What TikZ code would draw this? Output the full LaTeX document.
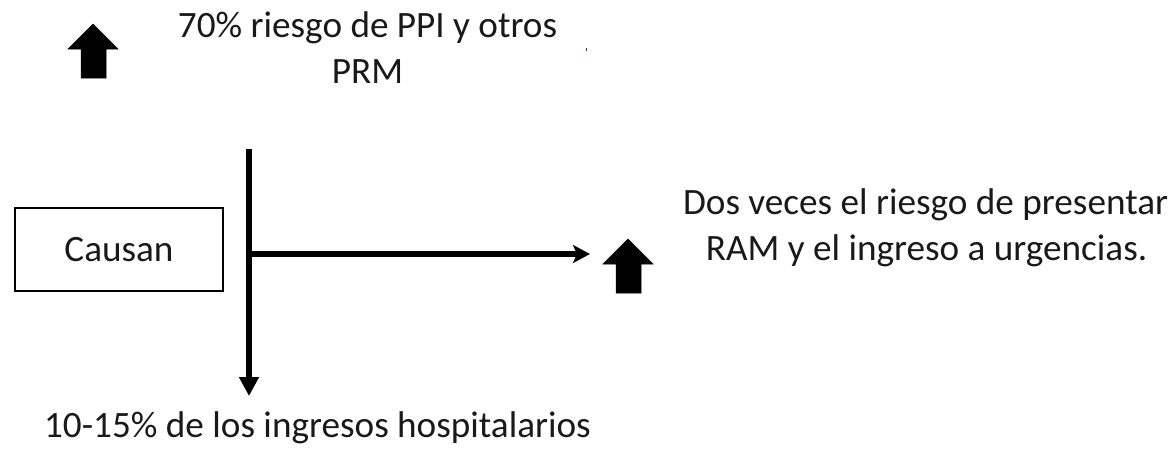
\documentclass[tikz,border=0pt]{standalone}
\usepackage{fontspec}
\setmainfont{Carlito}
\usetikzlibrary{arrows.meta}
\tikzset{
  lbl/.style={inner sep=0pt, anchor=base, font=\fontsize{37.2}{44}\selectfont, text=black!90},
  flow/.style={line width=5.5pt},
  blockarrow/.style={fill=black, draw=black, line width=0.5pt, line join=miter},
}
\begin{document}
\begin{tikzpicture}[x=1pt,y=-1pt]
\useasboundingbox (0,0) rectangle (1176,456);
% box
\node[draw=black, line width=1.5pt, minimum width=208pt, minimum height=83pt, inner sep=0pt,
      font=\fontsize{37.2}{44}\selectfont, text=black!90] (causan) at (119,249.5) {Causan};
% texts
\node[lbl] (t1a) at (367.5,37) {70\% riesgo de PPI y otros};
\node[lbl] (t1b) at (367.5,83) {PRM};
\node[lbl] (t2a) at (925.5,214) {Dos veces el riesgo de presentar};
\node[lbl] (t2b) at (926.5,260) {RAM y el ingreso a urgencias.};
\node[lbl] (t3) at (317.5,437) {10-15\% de los ingresos hospitalarios};
% connectors
\coordinate (vtop) at (249,149);
\coordinate (vbot) at (249,396);
\coordinate (hjoin) at (249,254);
\coordinate (hend) at (590,254);
\draw[flow, -{Triangle[length=19pt,width=19pt]}] (vtop) -- (vbot);
\draw[flow, -{Stealth[length=17pt,width=18pt,inset=4pt]}] (hjoin) -- (hend);
% block arrows
\fill[blockarrow] (93,24) -- (118,49) -- (106,49) -- (106,78) -- (81,78) -- (81,49) -- (68,49) -- cycle;
\fill[blockarrow] (628,239) -- (653,264) -- (641,264) -- (641,293) -- (616,293) -- (616,264) -- (603,264) -- cycle;
% tiny mark
\fill[fill={rgb,255:red,50;green,60;blue,120}] (585.5,47.5) rectangle (586.5,50.5);
\end{tikzpicture}
\end{document}
